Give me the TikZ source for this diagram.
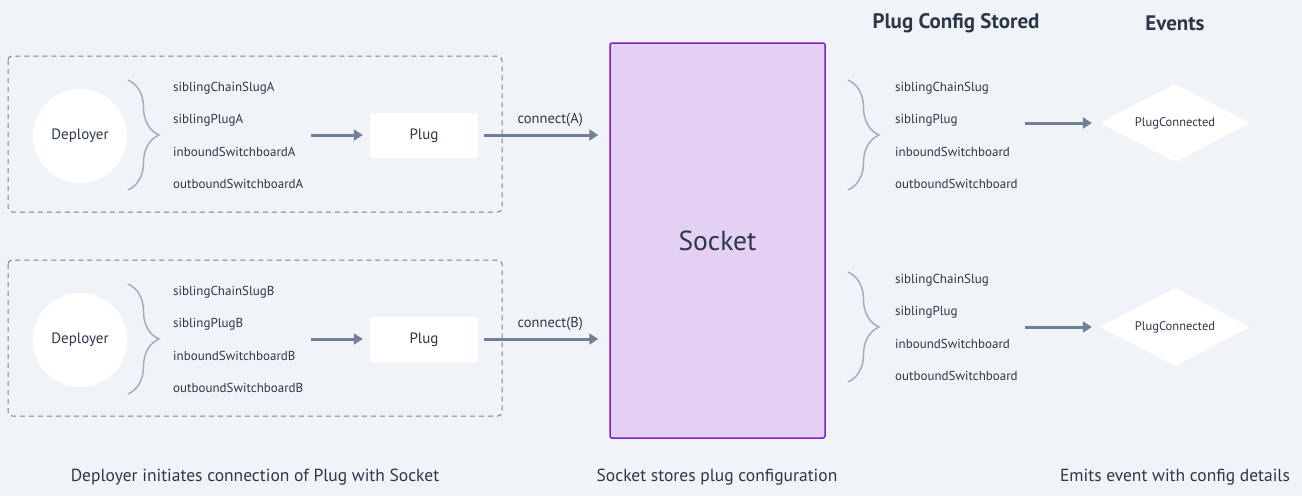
\documentclass[tikz,border=0pt]{standalone}
\usepackage{fontspec}
\setmainfont{PT Sans}
\usetikzlibrary{shapes.geometric,decorations.pathreplacing,arrows.meta}

\definecolor{bg}{HTML}{F0F4F8}
\definecolor{ink}{HTML}{2D3748}
\definecolor{arrowgray}{HTML}{718096}
\definecolor{bracegray}{HTML}{A0AEC0}
\definecolor{socketfill}{HTML}{E3D0F3}
\definecolor{socketdraw}{HTML}{7E1FC8}

\begin{document}
\begin{tikzpicture}[x=1pt,y=-1pt]
        \tikzstyle{every node}+=[inner sep=0pt,text=ink]
        \tikzstyle{field}=[anchor=west,font=\fontsize{13}{15}\selectfont]
        \tikzstyle{caption}=[font=\fontsize{17.5}{20}\selectfont]
        \tikzstyle{heading}=[font=\fontsize{21}{24}\selectfont\bfseries]
        \tikzstyle{group}=[draw=arrowgray,dashed,line width=1pt,rounded corners=4pt,dash pattern=on 5pt off 4pt]
        \tikzstyle{deployer}=[circle,fill=white,minimum size=94pt,font=\fontsize{15}{17}\selectfont]
        \tikzstyle{plugbox}=[rectangle,fill=white,rounded corners=2pt,minimum width=108pt,minimum height=45pt,font=\fontsize{15}{17}\selectfont]
        \tikzstyle{socket}=[rectangle,fill=socketfill,draw=socketdraw,line width=1.5pt,rounded corners=2pt,minimum width=215pt,minimum height=395pt,font=\fontsize{27.5}{30}\selectfont]
        \tikzstyle{event}=[diamond,aspect=2,fill=white,minimum width=150pt,minimum height=78pt,rounded corners=2pt,font=\fontsize{12.5}{14}\selectfont]
        \tikzstyle{curly}=[draw=bracegray,line width=1.5pt,decorate,decoration={brace,amplitude=31pt,aspect=0.5}]
        \tikzstyle{flow}=[draw=arrowgray,line width=3pt,-{Triangle[length=9pt,width=11pt]}]
        % background
        \fill [bg] (0,0) rectangle (1302,496);
        \useasboundingbox (0,0) rectangle (1302,496);
        % socket
        \node [socket] (socket) at (717.5,240.5) {Socket};
        % headings
        \node [heading] (cfghead) at (956,23) {Plug Config Stored};
        \node [heading] (evhead) at (1175,23) {Events};
        % deployer side
        \foreach \r/\y in {A/0,B/204} {
                \draw [group] (8,56+\y) rectangle (502,212+\y);
                \node [deployer] (dep\r) at (80,136+\y) {Deployer};
                \draw [curly] (128,80+\y) -- (128,190+\y);
                \node [field] (chain\r) at (173,88+\y) {siblingChainSlug\r};
                \node [field] (sib\r) at (173,120+\y) {siblingPlug\r};
                \node [field] (in\r) at (173,152+\y) {inboundSwitchboard\r};
                \node [field] (out\r) at (173,184+\y) {outboundSwitchboard\r};
                \coordinate (args\r) at (311,135+\y);
                \node [plugbox] (plug\r) at (424,135.5+\y) {Plug};
                \draw [flow, shorten >=7pt] (args\r) -- (plug\r.west |- args\r);
                \draw [flow, shorten <=6pt, shorten >=11pt] (plug\r.east |- args\r) -- (socket.west |- args\r)
                        node [pos=0.55, above=7pt, font=\fontsize{14.5}{16}\selectfont] {connect(\r)};
        }
        % stored config and events
        \foreach \r/\y/\e in {A/0/0,B/192/204} {
                \draw [curly] (848,80+\y) -- (848,190+\y);
                \node [field] (cchain\r) at (895,88+\y) {siblingChainSlug};
                \node [field] (csib\r) at (895,120+\y) {siblingPlug};
                \node [field] (cin\r) at (895,152+\y) {inboundSwitchboard};
                \node [field] (cout\r) at (895,184+\y) {outboundSwitchboard};
                \coordinate (cfg\r) at (1025,123+\e);
                \node [event] (ev\r) at (1175,123+\e) {PlugConnected};
                \draw [flow, shorten >=8pt] (cfg\r) -- (ev\r.west);
        }
        % captions
        \node [caption] (leftcap) at (255,477) {Deployer initiates connection of Plug with Socket};
        \node [caption] (midcap) at (717,477) {Socket stores plug configuration};
        \node [caption] (rightcap) at (1175,477) {Emits event with config details};
\end{tikzpicture}
\end{document}
